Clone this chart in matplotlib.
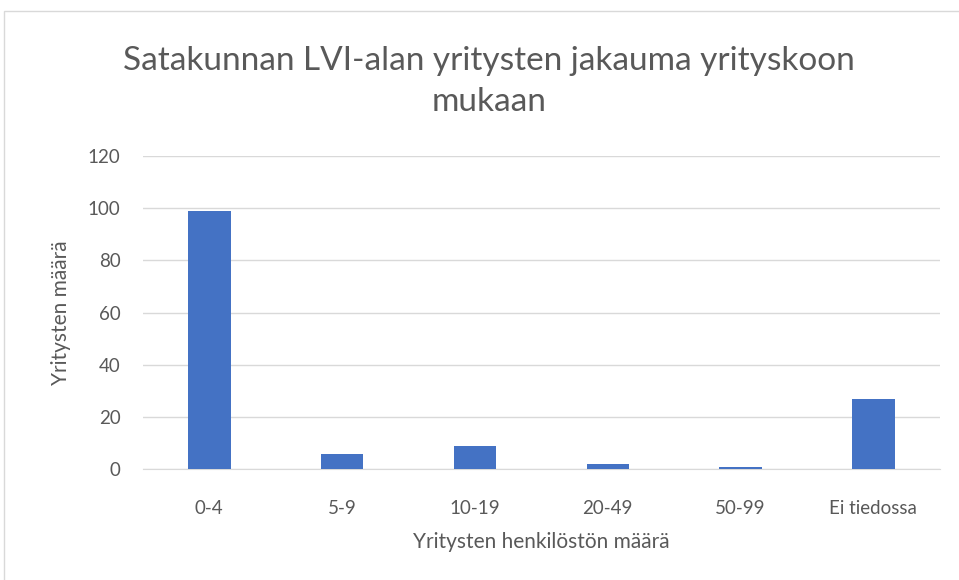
import matplotlib.pyplot as plt
from matplotlib.patches import Rectangle

categories = ['0-4', '5-9', '10-19', '20-49', '50-99', 'Ei tiedossa']
counts = [99, 6, 9, 2, 1, 27]

plt.rcParams['font.family'] = ['Lato', 'DejaVu Sans']
txt = '#595959'

fig = plt.figure(figsize=(9.59, 5.8), dpi=100)
fig.patches.append(Rectangle((4 / 959, -0.01), 1.0, (580 - 11) / 580 + 0.01,
                             transform=fig.transFigure, fill=False,
                             edgecolor='#d9d9d9', linewidth=1))
ax = fig.add_axes([0.149, 0.191, 0.831, 0.540])

x = range(len(categories))
ax.bar(x, counts, width=0.32, color='#4472C4', zorder=3)

ax.set_ylim(0, 120)
ax.set_yticks(range(0, 121, 20))
ax.set_xlim(-0.5, len(categories) - 0.5)
ax.set_xticks(list(x))
ax.set_xticklabels(categories)
ax.grid(axis='y', color='#d9d9d9', linewidth=1, zorder=0)
ax.tick_params(axis='both', length=0, labelsize=13.5, colors=txt)
ax.tick_params(axis='x', pad=22)
ax.tick_params(axis='y', pad=16)
for s in ['top', 'right', 'left']:
    ax.spines[s].set_visible(False)
ax.spines['bottom'].set_color('#d9d9d9')

ax.set_xlabel('Yritysten henkilöstön määrä', fontsize=15, color=txt, labelpad=11)
ax.set_ylabel('Yritysten määrä', fontsize=15, color=txt, labelpad=12)
fig.text(0.51, 0.860, 'Satakunnan LVI-alan yritysten jakauma yrityskoon\nmukaan',
         ha='center', va='center', fontsize=24, color=txt, linespacing=1.45)

fig.savefig('out.png', dpi=100)
